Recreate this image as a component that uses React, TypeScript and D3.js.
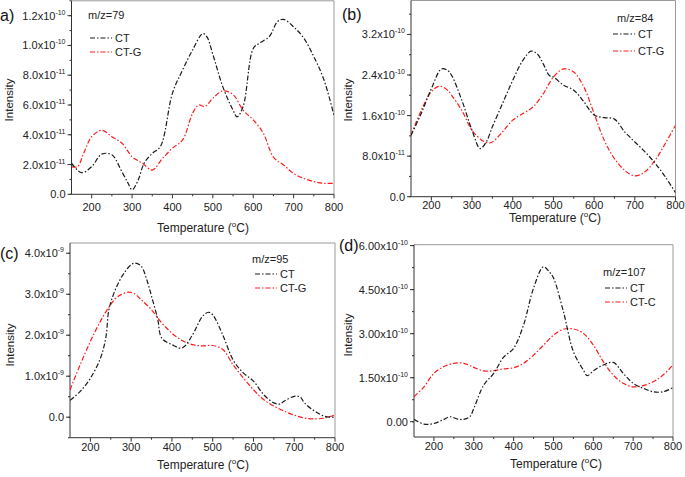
import React from "react";
import * as d3 from "d3";

// ---- Data (temperatures in °C, intensities in units given per panel) ----
// Panel a: m/z=79, units 1e-11
const aCT_T = [150,175,200,225,250,275,290,300,315,330,350,370,400,425,450,475,485,500,525,550,560,575,600,615,640,660,675,700,725,750,775,800];
const aCT_V = [2.1,1.45,1.86,2.7,2.65,1.5,0.75,0.3,0.95,2.1,2.75,3.2,6.8,8.35,9.7,10.8,10.6,9.4,7.2,5.65,5.2,5.9,9.8,10.15,10.6,11.6,11.75,11.25,10.5,9.25,7.7,5.3];
const aCTG_T = [150,165,180,200,225,250,275,300,325,350,375,400,425,450,465,480,500,525,550,575,600,625,650,675,700,725,750,775,800];
const aCTG_V = [1.86,1.86,2.75,3.87,4.3,3.87,3.43,2.53,2.1,1.63,2.4,3.1,3.65,5.45,6.0,5.9,6.45,6.95,6.7,5.65,5.0,4.1,2.5,1.97,1.4,1.07,0.85,0.74,0.74];

// Panel b: m/z=84, units 1e-11
const bCT_T = [150,175,200,225,240,250,275,300,320,335,350,375,400,425,445,460,475,490,500,525,550,575,600,625,650,675,700,725,750,775,800];
const bCT_V = [12.1,16.4,21.3,25.2,24.9,23.9,19.0,13.1,9.5,10.8,13.8,18.4,22.95,26.9,28.7,28.2,26.2,23.9,23.6,22.0,21.0,18.7,16.1,15.6,15.3,12.8,10.8,8.85,6.6,3.9,0.8];
const bCTG_T = [150,175,200,220,240,250,275,300,325,340,350,375,400,425,450,475,500,525,550,575,600,625,650,675,700,725,750,775,800];
const bCTG_V = [12.1,17,20.7,21.8,21.0,20.0,17.0,13.1,11.1,10.6,10.8,12.8,15.1,16.4,17.7,20.3,23.6,25.2,24.6,21.6,16.4,11.1,7.5,5.2,4.1,4.9,7.2,10.5,14.1];

// Panel c: m/z=95, units 1e-9
const cCT_T = [150,175,200,225,238,245,255,270,285,300,310,325,340,350,365,375,400,425,450,475,490,500,525,550,575,600,625,650,665,675,700,715,725,750,775,800];
const cCT_V = [0.41,0.63,0.95,1.45,1.95,2.6,2.95,3.3,3.55,3.72,3.76,3.68,3.3,2.95,2.4,1.93,1.77,1.69,2.0,2.46,2.56,2.5,2.0,1.4,1.08,0.88,0.55,0.35,0.32,0.39,0.51,0.49,0.35,0.15,0.02,0.0];
const cCTG_T = [150,175,200,225,245,260,275,295,310,325,350,375,400,425,450,475,500,525,550,575,600,625,650,675,700,725,750,775,800];
const cCTG_V = [0.67,1.28,1.85,2.35,2.68,2.88,2.99,3.05,3.0,2.86,2.62,2.3,2.05,1.87,1.77,1.74,1.75,1.65,1.28,0.96,0.67,0.43,0.27,0.15,0.05,-0.02,-0.04,-0.02,0.06];

// Panel d: m/z=107, units 1e-10
const dCT_T = [150,175,200,225,240,260,275,290,300,325,350,375,400,425,450,475,490,500,525,550,575,585,600,625,650,675,700,725,750,775,800];
const dCT_V = [0.08,-0.08,-0.06,0.08,0.17,0.09,0.08,0.17,0.45,1.25,1.65,2.2,2.5,3.3,4.55,5.28,5.1,4.9,3.75,2.39,1.76,1.57,1.73,1.93,2.02,1.65,1.31,1.14,1.02,1.02,1.16];
const dCTG_T = [150,175,200,225,250,275,300,325,350,375,400,425,450,475,500,525,550,575,600,625,650,675,700,725,750,775,800];
const dCTG_V = [0.85,1.19,1.65,1.88,1.99,1.99,1.85,1.73,1.74,1.8,1.84,1.99,2.27,2.61,2.95,3.15,3.16,3.01,2.61,2.05,1.59,1.31,1.19,1.23,1.36,1.59,1.93];

// Axis ticks
const xTicks = [200, 300, 400, 500, 600, 700, 800];
const xMinor = [250, 350, 450, 550, 650, 750];

const aYTicks = [0, 2, 4, 6, 8, 10, 12];
const aYMant = ["0.0", "2.0x10", "4.0x10", "6.0x10", "8.0x10", "1.0x10", "1.2x10"];
const aYExp = ["", "-11", "-11", "-11", "-11", "-10", "-10"];
const bYTicks = [0, 8, 16, 24, 32];
const bYMant = ["0.0", "8.0x10", "1.6x10", "2.4x10", "3.2x10"];
const bYExp = ["", "-11", "-10", "-10", "-10"];
const cYTicks = [0, 1, 2, 3, 4];
const cYMant = ["0.0", "1.0x10", "2.0x10", "3.0x10", "4.0x10"];
const cYExp = ["", "-9", "-9", "-9", "-9"];
const dYTicks = [0, 1.5, 3, 4.5, 6];
const dYMant = ["0.00", "1.50x10", "3.00x10", "4.50x10", "6.00x10"];
const dYExp = ["", "-10", "-10", "-10", "-10"];

const panelLetters = ["a)", "(b)", "(c)", "(d)"];
const massLabels = ["m/z=79", "m/z=84", "m/z=95", "m/z=107"];
const seriesNames = [["CT", "CT-G"], ["CT", "CT-G"], ["CT", "CT-G"], ["CT", "CT-C"]];

// ---- Layout ----
const layout = [
  { left: 71.5, right: 334, top: 0.8, bottom: 194.3, yMin: 0, yMax: 13, minorStep: 1, tickOff: 17,
    letter: [0, 21], legend: [88, 90, 19, 38, 52], xTitle: [203, 232], yTitle: [13, 100] },
  { left: 411, right: 675.5, top: 0.5, bottom: 196.7, yMin: 0, yMax: 38.7, minorStep: 4, tickOff: 12,
    letter: [342, 20], legend: [617, 613, 22, 34, 51], xTitle: [555, 222], yTitle: [352, 100] },
  { left: 70, right: 335, top: 243, bottom: 437.7, yMin: -0.5, yMax: 4.25, minorStep: 0.5, tickOff: 13,
    letter: [0, 259], legend: [252, 255, 263, 274, 288], xTitle: [203, 469], yTitle: [14, 345] },
  { left: 414, right: 673, top: 244.7, bottom: 437, yMin: -0.52, yMax: 6.03, minorStep: 0.75, tickOff: 13,
    letter: [339, 251], legend: [603, 605, 276, 288, 302], xTitle: [556, 468], yTitle: [352, 335] },
];

const panelData = [
  { ct: [aCT_T, aCT_V], ctg: [aCTG_T, aCTG_V], ticks: [aYTicks, aYMant, aYExp] },
  { ct: [bCT_T, bCT_V], ctg: [bCTG_T, bCTG_V], ticks: [bYTicks, bYMant, bYExp] },
  { ct: [cCT_T, cCT_V], ctg: [cCTG_T, cCTG_V], ticks: [cYTicks, cYMant, cYExp] },
  { ct: [dCT_T, dCT_V], ctg: [dCTG_T, dCTG_V], ticks: [dYTicks, dYMant, dYExp] },
];

const BLACK = "#1a1a1a";
const RED = "#ff1a1a";
const DASH = "5,2,1.5,2";
const FONT = "'Liberation Sans', Arial, sans-serif";

function Panel({ i }: { i: number }) {
  const L = layout[i];
  const D = panelData[i];
  const x = d3.scaleLinear().domain([150, 800]).range([L.left, L.right]);
  const y = d3.scaleLinear().domain([L.yMin, L.yMax]).range([L.bottom, L.top]);
  const line = d3
    .line<[number, number]>()
    .x((d) => x(d[0]))
    .y((d) => y(d[1]))
    .curve(d3.curveCatmullRom.alpha(0.5));
  const pts = (s: number[][]) => s[0].map((t, k) => [t, s[1][k]] as [number, number]);
  const minor = d3.range(Math.ceil(L.yMin / L.minorStep) * L.minorStep, L.yMax + 1e-9, L.minorStep);
  const [yT, yM, yE] = D.ticks as [number[], string[], string[]];
  const clipId = `clip${i}`;
  const [titleX, lx, titleY, ctY, ctgY] = L.legend;
  return (
    <g fontFamily={FONT}>
      <defs>
        <clipPath id={clipId}>
          <rect x={L.left} y={L.top} width={L.right - L.left} height={L.bottom - L.top} />
        </clipPath>
      </defs>
      <path d={`M${L.left},${L.top}H${L.right}V${L.bottom}`} fill="none" stroke="#9a9a9a" strokeWidth={1} />
      <line x1={L.left} x2={L.left} y1={L.top} y2={L.bottom} stroke="#333" strokeWidth={1} />
      <line x1={L.left} x2={L.right} y1={L.bottom} y2={L.bottom} stroke="#333" strokeWidth={1} />
      {xTicks.map((t) => (
        <g key={"xt" + t}>
          <line x1={x(t)} x2={x(t)} y1={L.bottom} y2={L.bottom + 4} stroke="#333" />
          <text x={x(t)} y={L.bottom + L.tickOff} fontSize={11} textAnchor="middle" fill="#222">{t}</text>
        </g>
      ))}
      {xMinor.map((t) => (
        <line key={"xm" + t} x1={x(t)} x2={x(t)} y1={L.bottom} y2={L.bottom + 2} stroke="#333" />
      ))}
      {minor.map((v) => (
        <line key={"ym" + v} x1={L.left - 2} x2={L.left} y1={y(v)} y2={y(v)} stroke="#333" />
      ))}
      {yT.map((v, k) => (
        <g key={"yt" + v}>
          <line x1={L.left - 4} x2={L.left} y1={y(v)} y2={y(v)} stroke="#333" />
          <text x={L.left - 6} y={y(v) + 4} fontSize={11} textAnchor="end" fill="#222">
            {yM[k]}
            {yE[k] ? <tspan fontSize={7} dy={-5}>{yE[k]}</tspan> : null}
          </text>
        </g>
      ))}
      <g clipPath={`url(#${clipId})`}>
        <path d={line(pts(D.ctg)) || ""} fill="none" stroke={RED} strokeWidth={1.2} strokeDasharray={DASH} />
        <path d={line(pts(D.ct)) || ""} fill="none" stroke={BLACK} strokeWidth={1.2} strokeDasharray={DASH} />
      </g>
      <text x={titleX} y={titleY} fontSize={11} fill="#222">{massLabels[i]}</text>
      <line x1={lx} x2={lx + 22} y1={ctY} y2={ctY} stroke={BLACK} strokeWidth={1.2} strokeDasharray={DASH} />
      <text x={lx + 25} y={ctY + 4} fontSize={11} fill="#222">{seriesNames[i][0]}</text>
      <line x1={lx} x2={lx + 22} y1={ctgY} y2={ctgY} stroke={RED} strokeWidth={1.2} strokeDasharray={DASH} />
      <text x={lx + 25} y={ctgY + 4} fontSize={11} fill="#222">{seriesNames[i][1]}</text>
      <text x={L.xTitle[0]} y={L.xTitle[1]} fontSize={12} textAnchor="middle" fill="#222">
        Temperature (<tspan fontSize={8} dy={-5}>o</tspan><tspan dy={5}>C)</tspan>
      </text>
      <text
        transform={`translate(${L.yTitle[0]},${L.yTitle[1]}) rotate(-90)`}
        fontSize={11.5}
        textAnchor="middle"
        fill="#222"
      >
        Intensity
      </text>
      <text x={L.letter[0]} y={L.letter[1]} fontSize={16} fill="#111">{panelLetters[i]}</text>
    </g>
  );
}

export default function App() {
  return (
    <svg
      width={685}
      height={477}
      style={{ position: "absolute", left: 0, top: 0, background: "#fff" }}
    >
      <rect width={685} height={477} fill="#fff" />
      {[0, 1, 2, 3].map((i) => (
        <Panel key={i} i={i} />
      ))}
    </svg>
  );
}
